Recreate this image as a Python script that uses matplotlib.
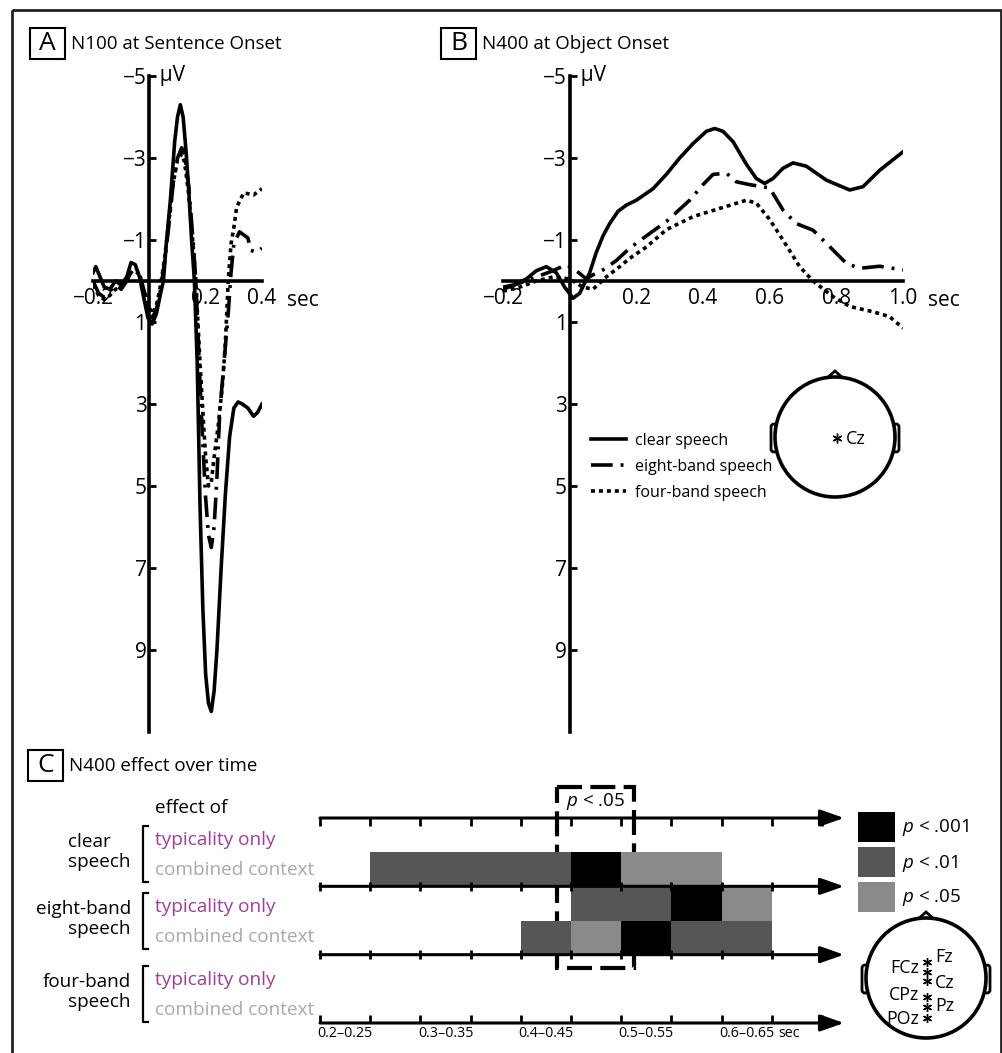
import numpy as np
import matplotlib.pyplot as plt
from matplotlib.patches import Rectangle, Circle, FancyBboxPatch, Polygon

plt.rcParams['font.family'] = ['Open Sans', 'DejaVu Sans']
plt.rcParams['mathtext.fontset'] = 'custom'
plt.rcParams['mathtext.it'] = 'Open Sans:italic'
plt.rcParams['mathtext.rm'] = 'Open Sans'

# ---- Panel A: N100 at sentence onset (time in s, amplitude in microvolts) ----
tA_clear = [-0.20, -0.19, -0.175, -0.16, -0.14, -0.12, -0.10, -0.08, -0.065, -0.05, -0.035, -0.02,
            -0.005, 0.01, 0.025, 0.04, 0.05, 0.06, 0.075, 0.09, 0.10, 0.11, 0.12, 0.13, 0.14, 0.15,
            0.16, 0.17, 0.18, 0.19, 0.20, 0.21, 0.22, 0.23, 0.24, 0.255, 0.27, 0.285, 0.30, 0.315,
            0.33, 0.35, 0.37, 0.385, 0.40]
vA_clear = [-0.2, -0.35, -0.1, 0.15, 0.2, 0.0, 0.1, -0.1, -0.45, -0.4, -0.1, 0.4,
            0.9, 1.05, 0.8, 0.3, 0.0, -0.9, -2.0, -3.4, -4.0, -4.3, -4.0, -3.2, -2.2, -1.0,
            0.0, 2.0, 5.5, 8.0, 9.6, 10.3, 10.5, 10.0, 9.0, 7.0, 5.2, 3.8, 3.1, 2.95,
            3.0, 3.1, 3.3, 3.2, 3.0]

tA_eight = [-0.20, -0.18, -0.16, -0.14, -0.12, -0.10, -0.08, -0.06, -0.04, -0.02, 0.0, 0.01,
            0.025, 0.04, 0.055, 0.07, 0.085, 0.10, 0.115, 0.125, 0.14, 0.155, 0.165, 0.18, 0.19,
            0.20, 0.21, 0.22, 0.23, 0.24, 0.25, 0.265, 0.28, 0.29, 0.30, 0.32, 0.35, 0.36, 0.38, 0.40]
vA_eight = [0.0, 0.3, 0.4, 0.25, 0.1, 0.2, 0.0, -0.3, -0.3, 0.2, 0.7, 0.9,
            0.7, 0.2, -0.5, -1.4, -2.4, -3.0, -3.25, -3.1, -2.3, -1.0, 0.0, 2.5, 4.0,
            5.3, 6.2, 6.5, 6.0, 4.8, 3.2, 2.0, 0.8, -0.2, -0.9, -1.2, -1.05, -0.75, -0.7, -0.8]

tA_four = [-0.20, -0.18, -0.16, -0.14, -0.12, -0.10, -0.08, -0.06, -0.04, -0.02, 0.0, 0.01,
           0.025, 0.04, 0.055, 0.07, 0.085, 0.10, 0.115, 0.125, 0.14, 0.155, 0.165, 0.18, 0.19,
           0.20, 0.21, 0.22, 0.23, 0.245, 0.26, 0.27, 0.28, 0.29, 0.30, 0.31, 0.335, 0.37, 0.40]
vA_four = [0.1, 0.35, 0.45, 0.35, 0.2, 0.15, -0.05, -0.25, -0.2, 0.25, 0.65, 0.8,
           0.6, 0.1, -0.6, -1.5, -2.4, -2.95, -3.1, -2.9, -2.1, -0.9, 0.0, 2.0, 3.2,
           4.3, 5.0, 4.9, 4.3, 3.5, 2.5, 1.5, 0.0, -0.9, -1.3, -1.8, -2.15, -2.1, -2.25]

# ---- Panel B: N400 at object onset ----
tB_clear = [-0.2, -0.17, -0.13, -0.1, -0.07, -0.04, -0.015, 0.01, 0.03, 0.045, 0.06, 0.08, 0.1,
            0.12, 0.145, 0.17, 0.2, 0.25, 0.29, 0.33, 0.37, 0.41, 0.435, 0.46, 0.49, 0.53, 0.56,
            0.585, 0.61, 0.64, 0.67, 0.71, 0.77, 0.84, 0.88, 0.93, 1.0]
vB_clear = [0.15, 0.1, -0.05, -0.25, -0.35, -0.2, 0.15, 0.42, 0.3, 0.05, -0.2, -0.7, -1.1,
            -1.4, -1.7, -1.85, -1.97, -2.25, -2.6, -3.0, -3.35, -3.65, -3.72, -3.65, -3.4, -2.85, -2.5,
            -2.38, -2.5, -2.75, -2.88, -2.8, -2.46, -2.22, -2.3, -2.7, -3.15]

tB_eight = [-0.2, -0.15, -0.1, -0.05, -0.01, 0.02, 0.05, 0.07, 0.1, 0.14, 0.18, 0.23, 0.29, 0.36,
            0.4, 0.43, 0.47, 0.5, 0.54, 0.6, 0.64, 0.68, 0.73, 0.77, 0.83, 0.87, 0.93, 1.0]
vB_eight = [0.2, 0.05, -0.1, -0.25, -0.4, -0.25, -0.05, -0.15, -0.27, -0.5, -0.8, -1.1, -1.45, -1.97,
            -2.35, -2.6, -2.63, -2.42, -2.35, -2.27, -1.73, -1.4, -1.24, -0.92, -0.43, -0.31, -0.36, -0.27]

tB_four = [-0.2, -0.15, -0.1, -0.05, 0.0, 0.04, 0.07, 0.09, 0.11, 0.15, 0.18, 0.23, 0.29, 0.37,
           0.45, 0.53, 0.56, 0.6, 0.64, 0.69, 0.73, 0.79, 0.84, 0.91, 0.96, 1.0]
vB_four = [0.25, 0.15, 0.0, -0.1, -0.05, 0.15, 0.2, 0.05, -0.1, -0.35, -0.55, -0.83, -1.25, -1.57,
           -1.77, -1.97, -1.9, -1.5, -1.0, -0.35, 0.0, 0.38, 0.62, 0.75, 0.87, 1.15]

series_labels = ['clear speech', 'eight-band speech', 'four-band speech']
yticks_uv = [-5, -3, -1, 1, 3, 5, 7, 9]

# ---- Panel C: significance of N400 effect per 50 ms window ----
win_starts = [0.20, 0.25, 0.30, 0.35, 0.40, 0.45, 0.50, 0.55, 0.60, 0.65]
# 0 = n.s., 1 = p<.05, 2 = p<.01, 3 = p<.001
sig_clear_typ = [0, 0, 0, 0, 0, 0, 0, 0, 0, 0]
sig_clear_comb = [0, 2, 2, 2, 2, 3, 1, 1, 0, 0]
sig_eight_typ = [0, 0, 0, 0, 0, 2, 2, 3, 1, 0]
sig_eight_comb = [0, 0, 0, 0, 2, 1, 3, 2, 2, 0]
sig_four_typ = [0, 0, 0, 0, 0, 0, 0, 0, 0, 0]
sig_four_comb = [0, 0, 0, 0, 0, 0, 0, 0, 0, 0]
sig_rows = [sig_clear_typ, sig_clear_comb, sig_eight_typ, sig_eight_comb, sig_four_typ, sig_four_comb]
sig_colors = {1: '#8a8a8a', 2: '#565656', 3: '#000000'}
sig_labels = ['$p$ < .001', '$p$ < .01', '$p$ < .05']
win_labels = ['0.2\u20130.25', '0.3\u20130.35', '0.4\u20130.45', '0.5\u20130.55', '0.6\u20130.65']
win_label_pos = [0.225, 0.325, 0.425, 0.525, 0.625]
groups = ['clear\nspeech', 'eight-band\nspeech', 'four-band\nspeech']
group_align = ['left', 'right', 'right']
electrodes = ['Fz', 'FCz', 'Cz', 'CPz', 'Pz', 'POz']

W, H = 1003, 1053
fig = plt.figure(figsize=(W / 100, H / 100), dpi=100)


def px_axes(x0, y0, x1, y1):
    ax = fig.add_axes([x0 / W, 1 - y1 / H, (x1 - x0) / W, (y1 - y0) / H])
    ax.patch.set_alpha(0)
    return ax


# overlay in pixel coordinates for frame, labels and head drawings
ov = fig.add_axes([0, 0, 1, 1])
ov.set_xlim(0, W)
ov.set_ylim(H, 0)
ov.axis('off')

ov.add_patch(Rectangle((12, 10), 989, 1100, fill=False, lw=2, ec='#222222'))
for letter, bx, by, title in [('A', 30, 28, 'N100 at Sentence Onset'),
                              ('B', 441, 28, 'N400 at Object Onset'),
                              ('C', 28, 750, 'N400 effect over time')]:
    ov.add_patch(Rectangle((bx, by), 35, 31, fill=False, lw=1.5, ec='k'))
    ov.text(bx + 17.5, by + 16, letter, ha='center', va='center', fontsize=19)
    ov.text(bx + 41, by + 16, title, ha='left', va='center', fontsize=13.5)


def erp_axes(ax, xmax, xticks, xlabels):
    ax.set_xlim(-0.2, xmax)
    ax.set_ylim(11, -5)
    for s in ['top', 'right']:
        ax.spines[s].set_visible(False)
    ax.spines['left'].set_position(('data', 0))
    ax.spines['bottom'].set_position(('data', 0))
    ax.spines['left'].set_linewidth(2.6)
    ax.spines['bottom'].set_linewidth(2.6)
    ax.set_yticks(yticks_uv)
    ax.set_yticklabels([str(v).replace('-', '\u2212') for v in yticks_uv])
    ax.tick_params(axis='y', direction='in', length=5, width=2, labelsize=15, pad=2)
    ax.set_xticks(xticks)
    ax.set_xticklabels(xlabels)
    ax.tick_params(axis='x', length=0, labelsize=15, pad=5)
    ax.text(0, -5, '  \u03bcV', ha='left', va='center', fontsize=15)
    ax.annotate('sec', xy=(xmax, 0), xytext=(18, -6.5), textcoords='offset points',
                ha='left', va='top', fontsize=15, annotation_clip=False)


dashdot = (0, (6, 2.2, 0.8, 2.2))
dotted = (0, (1.1, 1.1))

axA = px_axes(93, 76, 262, 732)
axA.plot(tA_clear, vA_clear, color='k', lw=2.6)
axA.plot(tA_eight, vA_eight, color='k', lw=2.6, ls=dashdot)
axA.plot(tA_four, vA_four, color='k', lw=2.6, ls=dotted)
erp_axes(axA, 0.4, [-0.2, 0.2, 0.4], ['\u22120.2', '0.2', '0.4'])

axB = px_axes(503, 76, 903, 732)
lb1, = axB.plot(tB_clear, vB_clear, color='k', lw=2.6)
lb2, = axB.plot(tB_eight, vB_eight, color='k', lw=2.6, ls=dashdot)
lb3, = axB.plot(tB_four, vB_four, color='k', lw=2.6, ls=dotted)
erp_axes(axB, 1.0, [-0.2, 0.2, 0.4, 0.6, 0.8, 1.0],
         ['\u22120.2', '0.2', '0.4', '0.6', '0.8', '1.0'])
axB.legend([lb1, lb2, lb3], series_labels, loc='upper left', frameon=False,
           bbox_to_anchor=(583 / W, 1 - 425 / H), bbox_transform=fig.transFigure,
           fontsize=11.5, handlelength=2.2, handletextpad=0.55, labelspacing=0.62, borderpad=0)


def head(cx, cy, r):
    ov.add_patch(Polygon([(cx - 9, cy - r + 2), (cx, cy - r - 6), (cx + 9, cy - r + 2)],
                         closed=True, fc='white', ec='k', lw=2))
    for ex in (cx - r - 4, cx + r - 2):
        ov.add_patch(FancyBboxPatch((ex, cy - 13), 6, 28, boxstyle='round,pad=0,rounding_size=3',
                                    fc='white', ec='k', lw=2))
    ov.add_patch(Circle((cx, cy), r, fill=True, fc='white', ec='k', lw=2.6, zorder=3))


head(835, 437, 60)
ov.plot([837], [438], marker=(6, 2, 0), ms=7, mew=1.0, color='k', zorder=4)
ov.text(846, 439, 'Cz', ha='left', va='center', fontsize=13, zorder=4)

# ---- Panel C ----
axC = px_axes(320, 818, 822, 1023)
axC.set_xlim(0.2, 0.7)
axC.set_ylim(6, 0)
axC.axis('off')
for row, sig in enumerate(sig_rows):
    for start, s in zip(win_starts, sig):
        if s:
            axC.bar(start, 1, width=0.05, bottom=row, align='edge', color=sig_colors[s], lw=0)

tick_times = np.arange(0.2, 0.701, 0.05)
for i, ly in enumerate([0, 2, 4, 6]):
    axC.annotate('', xy=(0.722, ly), xytext=(0.2, ly), annotation_clip=False,
                 arrowprops=dict(arrowstyle='-|>,head_length=0.8,head_width=0.28', lw=2.2,
                                 color='k', mutation_scale=18, shrinkA=0, shrinkB=0))
    lo, hi = (ly, ly + 0.22) if i == 0 else ((ly - 0.22, ly) if i == 3 else (ly - 0.14, ly + 0.14))
    axC.vlines(tick_times, lo, hi, color='k', lw=2, clip_on=False)
for pos, lab in zip(win_label_pos, win_labels):
    axC.text(pos, 6.1, lab, ha='center', va='top', fontsize=10.3)
axC.annotate('sec', xy=(0.65, 6.1), xytext=(5, 0), textcoords='offset points',
             ha='left', va='top', fontsize=10.3, annotation_clip=False)

# significance window box
ov.add_patch(Rectangle((557, 787), 77, 181, fill=False, lw=3, ec='k', ls=(0, (6, 2)), zorder=5))
ov.text(566, 802, '$p$ < .05', ha='left', va='center', fontsize=13.5)

# row labels
ov.text(155, 808, 'effect of', ha='left', va='center', fontsize=13.7)
grp_y = [852, 919, 992]
for g, al, gy in zip(groups, group_align, grp_y):
    ov.text(131, gy, g, ha='right', va='center', fontsize=13.6, linespacing=1.2, multialignment=al)
    ov.plot([148, 143, 143, 148], [gy - 26, gy - 26, gy + 30, gy + 30], color='k', lw=1.6)
    ov.text(155, gy - 12, 'typicality only', ha='left', va='center', fontsize=13.7, color='#9c3f96')
    ov.text(155, gy + 18, 'combined context', ha='left', va='center', fontsize=13.7, color='#a9a9a9')

# significance legend
for i, (lab, lev) in enumerate(zip(sig_labels, [3, 2, 1])):
    y0 = 812 + i * 35
    ov.add_patch(Rectangle((858, y0), 37, 30, fc=sig_colors[lev], ec='none'))
    ov.text(902, y0 + 16, lab, ha='left', va='center', fontsize=13.5)

# electrode head
head(926, 978, 60)
ast_y = [962, 972, 981, 997, 1007, 1018]
ov.plot([927] * len(ast_y), ast_y, ls='none', marker=(6, 2, 0), ms=6.5, mew=1.0, color='k', zorder=4)
lab_pos = [(935, 957, 'left'), (919, 968, 'right'), (935, 983, 'left'),
           (919, 995, 'right'), (935, 1006, 'left'), (919, 1019, 'right')]
for name, (lx, ly, ha) in zip(electrodes, lab_pos):
    ov.text(lx, ly, name, ha=ha, va='center', fontsize=12.8, zorder=4)

fig.savefig('out.png', dpi=100)
